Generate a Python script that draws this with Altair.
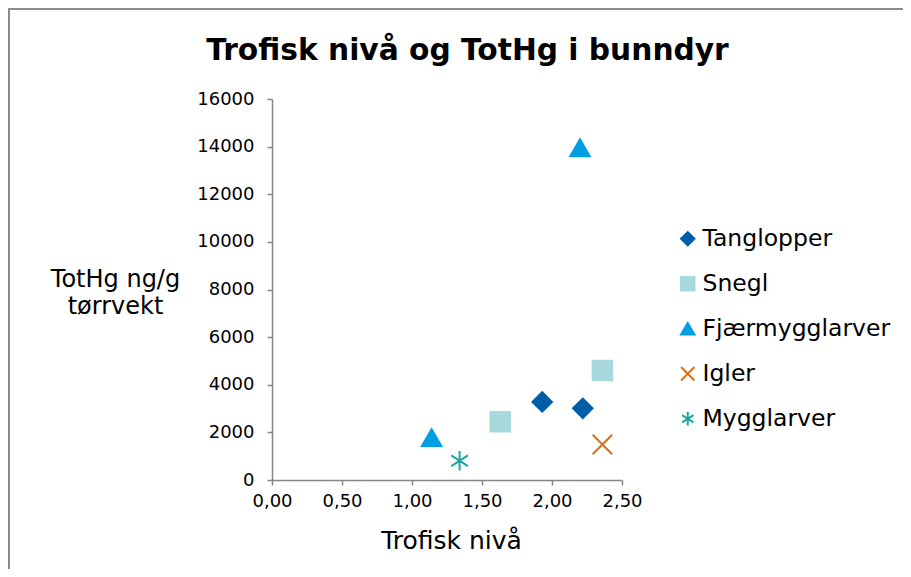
import altair as alt
import pandas as pd

# ---- data ----
species = ["Tanglopper", "Tanglopper", "Snegl", "Snegl",
           "Fjærmygglarver", "Fjærmygglarver", "Igler", "Mygglarver"]
trofisk = [1.93, 2.22, 1.63, 2.36, 1.14, 2.20, 2.36, 1.34]
tothg = [3280, 3010, 2450, 4600, 1780, 13950, 1490, 810]

order = ["Tanglopper", "Snegl", "Fjærmygglarver", "Igler", "Mygglarver"]
colors = ["#005EA8", "#A6D8DC", "#009FE3", "#E46C0A", "#1BA6A1"]
fills = ["#005EA8", "#A6D8DC", "#009FE3", "transparent", "transparent"]
shapes = ["diamond", "square", "triangle-up",
          "M-1,-1L1,1M-1,1L1,-1",
          "M0,-1L0,1M-0.85,-0.55L0.85,0.55M-0.85,0.55L0.85,-0.55"]

x_ticks = [0, 0.5, 1.0, 1.5, 2.0, 2.5]
y_ticks = [0, 2000, 4000, 6000, 8000, 10000, 12000, 14000, 16000]

title_text = "Trofisk nivå og TotHg i bunndyr"

df = pd.DataFrame({"Art": species, "Trofisk nivå": trofisk, "TotHg": tothg})

FONT = "DejaVu Sans"
AX = "#868686"

legend = alt.Legend(
    title=None, orient="none", legendX=404, legendY=128, padding=0,
    labelFont=FONT, labelFontSize=23.5, labelColor="#000000", labelLimit=400,
    symbolSize=180, symbolStrokeWidth=2, rowPadding=20, labelOffset=3,
)

points = alt.Chart(df).mark_point(filled=True, size=380, strokeWidth=2, opacity=1).encode(
    x=alt.X("Trofisk nivå:Q",
            scale=alt.Scale(domain=[0, 2.5], nice=False, zero=True),
            axis=alt.Axis(values=x_ticks, grid=False, labelFlush=False,
                          labelExpr="replace(format(datum.value, '.2f'), '.', ',')",
                          domainColor=AX, tickColor=AX, domainWidth=1.5, tickWidth=1.5,
                          tickSize=5, labelPadding=7,
                          labelFont=FONT, labelFontSize=18, labelColor="#000000",
                          title="Trofisk nivå", titleFont=FONT, titleFontSize=25,
                          titleFontWeight="normal", titleColor="#000000",
                          titleX=179, titleY=68, titleBaseline="alphabetic",
                          titleAlign="center")),
    y=alt.Y("TotHg:Q",
            scale=alt.Scale(domain=[0, 16000], nice=False),
            axis=alt.Axis(values=y_ticks, grid=False, format="d",
                          domainColor=AX, tickColor=AX, domainWidth=1.5, tickWidth=1.5,
                          tickSize=5, labelPadding=13,
                          labelFont=FONT, labelFontSize=18, labelColor="#000000",
                          title=["TotHg ng/g", "tørrvekt"], titleFont=FONT,
                          titleFontSize=24, titleFontWeight="normal",
                          titleColor="#000000", titleAngle=0,
                          titleX=-157, titleY=187, titleAlign="center",
                          titleBaseline="alphabetic", titleLineHeight=27)),
    fill=alt.Fill("Art:N", scale=alt.Scale(domain=order, range=fills), legend=legend),
    stroke=alt.Stroke("Art:N", scale=alt.Scale(domain=order, range=colors), legend=legend),
    shape=alt.Shape("Art:N", scale=alt.Scale(domain=order, range=shapes), legend=legend),
)

border = alt.Chart(alt.Data(values=[{}])).mark_rect(
    fill="transparent", stroke="#8C8C8C", strokeWidth=2
).encode(
    x=alt.value(-263), x2=alt.value(660),
    y=alt.value(-90), y2=alt.value(520),
)

title = alt.Chart(alt.Data(values=[{"t": title_text}])).mark_text(
    font=FONT, fontSize=29.7, fontWeight="bold", color="#000000",
    align="center", baseline="alphabetic"
).encode(
    text="t:N", x=alt.value(195.5), y=alt.value(-39.5),
)

chart = alt.layer(border, points, title).properties(
    width=350, height=381,
    padding={"left": 264, "top": 91, "right": 281, "bottom": 89},
    autosize=alt.AutoSizeParams(type="none"),
).configure_view(stroke=None)

chart.save("out.html", embed_options={"renderer": "svg", "actions": False})
